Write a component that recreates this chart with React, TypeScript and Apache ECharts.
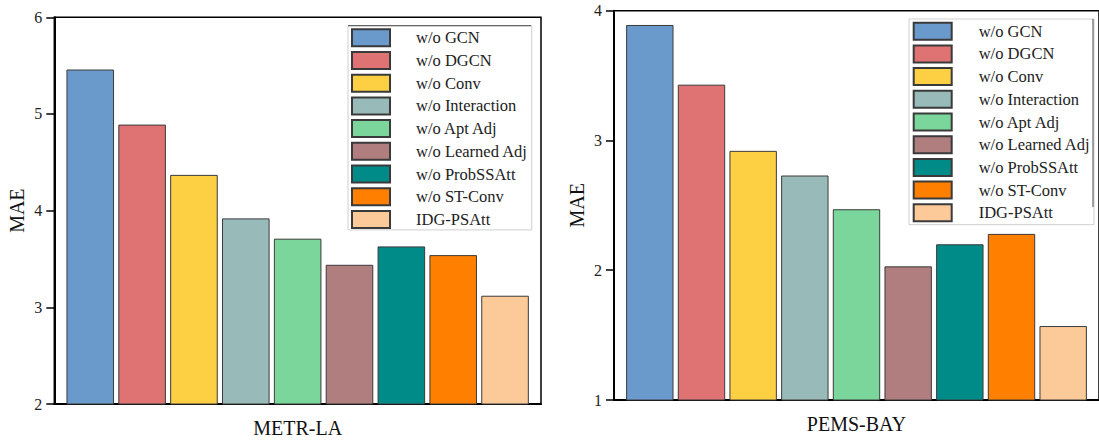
import React, { useEffect, useRef } from "react";
import * as echarts from "echarts";

// Ablation variants (one bar each) and their fill colours
const variants = [
  "w/o GCN",
  "w/o DGCN",
  "w/o Conv",
  "w/o Interaction",
  "w/o Apt Adj",
  "w/o Learned Adj",
  "w/o ProbSSAtt",
  "w/o ST-Conv",
  "IDG-PSAtt",
];
const variantColors = [
  "#6A9ACB",
  "#DF7272",
  "#FDD044",
  "#98BAB8",
  "#7AD69A",
  "#B07E7E",
  "#018B88",
  "#FF8000",
  "#FCC999",
];

const datasets = ["METR-LA", "PEMS-BAY"];

// MAE per variant
const metrLaMae = [5.46, 4.89, 4.37, 3.92, 3.71, 3.44, 3.63, 3.54, 3.12];
const pemsBayMae = [3.89, 3.43, 2.92, 2.73, 2.47, 2.03, 2.2, 2.28, 1.57];

// y-axis ranges (tick step 1)
const metrLaRange = [2, 6];
const pemsBayRange = [1, 4];

const FONT = "Liberation Serif";

export default function App() {
  const ref = useRef<HTMLDivElement>(null);

  useEffect(() => {
    if (!ref.current) return;
    const chart = echarts.init(ref.current, undefined, { renderer: "svg" });

    const grids = [
      { left: 54.3, top: 17.3, width: 486.7, height: 386.7 },
      { left: 614, top: 10.7, width: 489, height: 389.3 },
    ];

    const makeX = (i: number) => ({
      type: "category" as const,
      gridIndex: i,
      data: [datasets[i]],
      axisLine: { lineStyle: { color: "#000", width: 2 } },
      axisTick: { show: false },
      axisLabel: {
        fontFamily: FONT,
        fontSize: 20,
        color: "#111",
        margin: 14,
      },
    });

    const makeY = (i: number, range: number[]) => ({
      type: "value" as const,
      gridIndex: i,
      min: range[0],
      max: range[1],
      interval: 1,
      name: "MAE",
      nameLocation: "middle" as const,
      nameGap: 27,
      nameTextStyle: { fontFamily: FONT, fontSize: 20, color: "#111" },
      axisLine: { show: true, lineStyle: { color: "#000", width: 2 } },
      axisTick: { show: true, length: 8, lineStyle: { color: "#000", width: 1.5 } },
      axisLabel: { fontFamily: FONT, fontSize: 16, color: "#222", margin: 12 },
      splitLine: { show: false },
    });

    const makeSeries = (gi: number, values: number[]) =>
      variants.map((name, k) => ({
        type: "bar" as const,
        name,
        xAxisIndex: gi,
        yAxisIndex: gi,
        data: [values[k]],
        barCategoryGap: "5%",
        barGap: "9%",
        itemStyle: {
          color: variantColors[k],
          borderColor: "#3a3a3a",
          borderWidth: 1,
        },
      }));

    const legendCommon = {
      orient: "vertical" as const,
      data: variants.map((name) => ({ name, icon: "rect" })),
      icon: "rect",
      itemWidth: 38,
      itemHeight: 17,
      itemGap: 3.7,
      selectedMode: false,
      backgroundColor: "#fff",
      borderColor: "#cfcfcf",
      borderWidth: 1,
      textStyle: {
        fontFamily: FONT,
        fontSize: 16.5,
        color: "#222",
        padding: [0, 0, 0, 21],
      },
    };

    chart.setOption({
      animation: false,
      backgroundColor: "#fff",
      textStyle: { fontFamily: FONT },
      grid: grids.map((g) => ({
        ...g,
        show: true,
        borderColor: "#000",
        borderWidth: 1.5,
        backgroundColor: "transparent",
      })),
      xAxis: [makeX(0), makeX(1)],
      yAxis: [makeY(0, metrLaRange), makeY(1, pemsBayRange)],
      legend: [
        { ...legendCommon, left: 348, top: 25.7, padding: [2.6, 4, 1, 3] },
        {
          ...legendCommon,
          left: 909,
          top: 19,
          padding: [2.7, 3.5, 2.4, 3.7],
          textStyle: { ...legendCommon.textStyle, padding: [0, 0, 0, 22] },
        },
      ],
      series: [...makeSeries(0, metrLaMae), ...makeSeries(1, pemsBayMae)],
      graphic: [
        {
          type: "line",
          z: 100,
          shape: { x1: 348, y1: 25.7, x2: 531, y2: 25.7 },
          style: { stroke: "#666", lineWidth: 1.2 },
        },
        {
          type: "line",
          z: 100,
          shape: { x1: 1093, y1: 19, x2: 1093, y2: 207 },
          style: { stroke: "#666", lineWidth: 1.2 },
        },
      ],
    });

    return () => chart.dispose();
  }, []);

  return (
    <div
      ref={ref}
      style={{ position: "fixed", left: 0, top: 0, width: 1099, height: 441 }}
    />
  );
}
